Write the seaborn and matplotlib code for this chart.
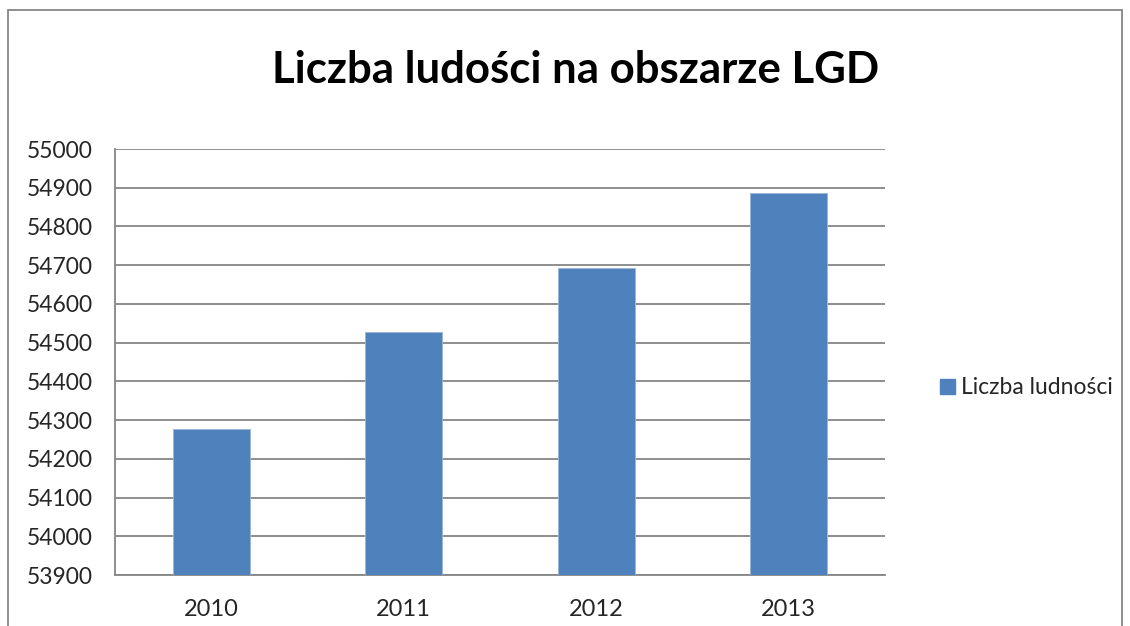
import matplotlib
matplotlib.use("Agg")
import matplotlib.pyplot as plt
import matplotlib.patches as mpatches
import seaborn as sns
import pandas as pd

# values
years = ["2010", "2011", "2012", "2013"]
population = [54278, 54527, 54694, 54886]
series_name = "Liczba ludności"
title = "Liczba ludości na obszarze LGD"

bar_color = "#4F81BD"
grid_color = "#868686"

sns.set_theme(style="white")
plt.rcParams["font.family"] = ["Lato", "DejaVu Sans"]

df = pd.DataFrame({"Rok": years, "Ludnosc": population})

fig = plt.figure(figsize=(11.3, 6.26), dpi=100)
ax = fig.add_axes([115 / 1130, 1 - 575 / 626, 770 / 1130, 426 / 626])

sns.barplot(data=df, x="Rok", y="Ludnosc", color=bar_color, width=0.4,
            saturation=1, ax=ax, zorder=3, edgecolor="#9BB7D9", linewidth=0.6)

ax.set_ylim(53900, 55000)
ax.set_yticks(range(53900, 55001, 100))
ax.set_xlim(-0.5, 3.5)
ax.yaxis.grid(True, color=grid_color, linewidth=1.3, zorder=0)
ax.set_axisbelow(True)
ax.set_xlabel("")
ax.set_ylabel("")

for side in ["top", "right"]:
    ax.spines[side].set_visible(False)
for side in ["left", "bottom"]:
    ax.spines[side].set_color(grid_color)
    ax.spines[side].set_linewidth(1.3)

# excel style: x ticks sit between the categories
ax.set_xticks([i for i in range(4)])
ax.set_xticklabels(years)
ax.tick_params(axis="x", length=0, pad=17, labelsize=17)
ax.set_xticks([-0.5, 0.5, 1.5, 2.5, 3.5], minor=True)
ax.tick_params(axis="x", which="minor", length=6, color=grid_color, width=1.2, direction="out")
ax.tick_params(axis="y", length=6, color=grid_color, width=1.2, direction="out", labelsize=16.5, pad=10)
ax.yaxis.set_major_formatter(matplotlib.ticker.StrMethodFormatter("{x:.0f}"))

fig.text(576 / 1130, 1 - 70 / 626, title, ha="center", va="center",
         fontsize=31.5, fontweight="bold", color="black")

handle = mpatches.Patch(color=bar_color, label=series_name)
fig.legend(handles=[handle], loc="center left", bbox_to_anchor=(940 / 1130, 1 - 388 / 626),
           frameon=False, fontsize=16.5, handlelength=0.65, handleheight=0.65,
           handletextpad=0.25, borderaxespad=0, borderpad=0)

# outer chart frame
frame = mpatches.Rectangle((8 / 1130, -0.05), 1114 / 1130, 1 - 10 / 626 + 0.05,
                           transform=fig.transFigure, fill=False,
                           edgecolor=grid_color, linewidth=1.3)
fig.patches.append(frame)

fig.savefig("out.png", dpi=100)
